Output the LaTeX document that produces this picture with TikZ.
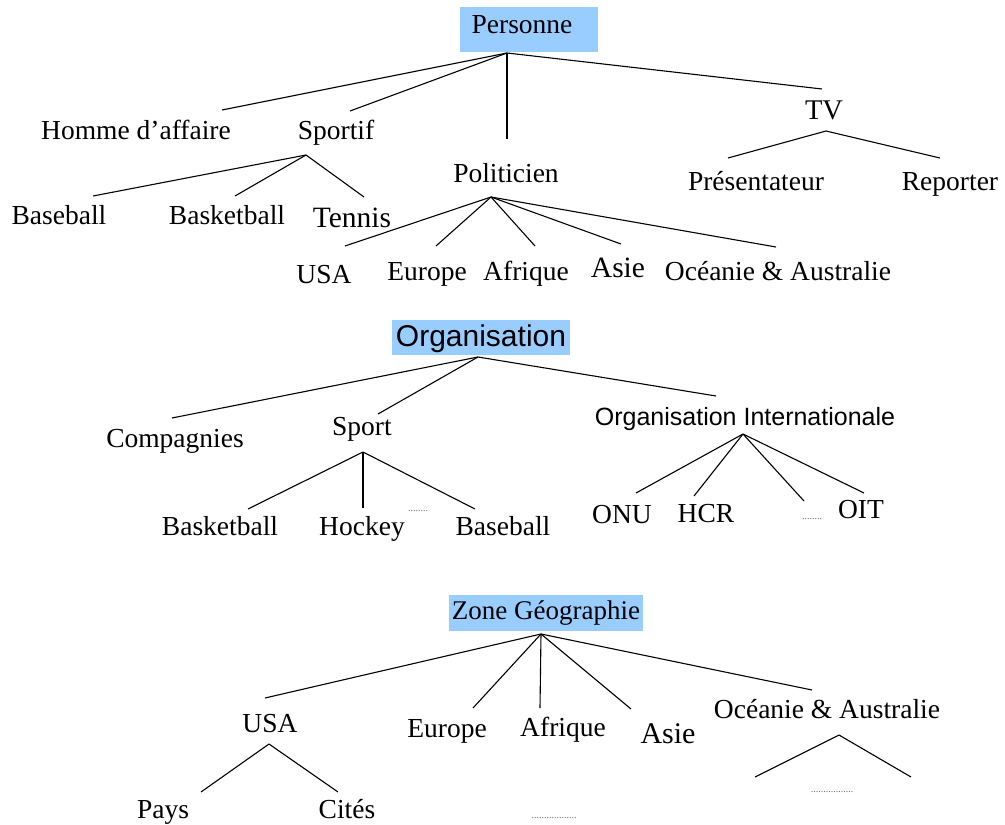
\documentclass[tikz,border=0pt]{standalone}
\usepackage{fontspec}
\setmainfont{Liberation Serif}
\newfontfamily\arialf{Liberation Sans}
\definecolor{hl}{RGB}{153,204,255}
\begin{document}
\begin{tikzpicture}[x=1pt,y=-1pt,
  lbl/.style={anchor=base, inner sep=0pt, font=\fontsize{27.5}{30}\selectfont},
  lblbig/.style={anchor=base, inner sep=0pt, font=\fontsize{29.5}{32}\selectfont},
  sanslbl/.style={anchor=base, inner sep=0pt, font=\arialf\fontsize{25}{28}\selectfont},
  sansbig/.style={anchor=base, inner sep=0pt, font=\arialf\fontsize{30}{32}\selectfont},
  hlbox/.style={fill=hl, draw=none, inner sep=0pt, anchor=north west},
  edge/.style={draw=black, line width=1.1pt},
  dotsl/.style={anchor=base, inner sep=0pt, font=\fontsize{10}{10}\selectfont, text=black!60}]
\useasboundingbox (0,0) rectangle (1005,825);

% ---------------- Personne ----------------
\node[hlbox, minimum width=138pt, minimum height=45pt] (personne-box) at (460,7) {};
\node[lbl] (personne) at (522,33) {Personne};
\node[lbl] (homme) at (136,139) {Homme d’affaire};
\node[lbl] (sportif) at (336,139) {Sportif};
\node[lbl] (polit) at (506,182) {Politicien};
\node[lbl, font=\fontsize{28.5}{30}\selectfont] (tv) at (824,119) {TV};
\node[lbl] (base1) at (59,224) {Baseball};
\node[lbl] (bask1) at (227,224) {Basketball};
\node[lblbig] (tennis) at (352,227) {Tennis};
\node[lbl] (usa1) at (324,283) {USA};
\node[lbl] (eur1) at (427,280) {Europe};
\node[lbl] (afr1) at (526,280) {Afrique};
\node[lblbig] (asie1) at (618,277) {Asie};
\node[lbl] (oce1) at (778,280) {Océanie \& Australie};
\node[lbl] (pres) at (756,190) {Présentateur};
\node[lbl] (rep) at (950,190) {Reporter};

\coordinate (p-r) at (507,53);
\coordinate (homme-t) at (222,110);
\coordinate (sportif-t) at (350,111);
\coordinate (polit-t) at (507,139);
\coordinate (tv-t) at (822,89);
\coordinate (sportif-b) at (306,155);
\coordinate (base1-t) at (93,196);
\coordinate (bask1-t) at (235,196);
\coordinate (tennis-t) at (364,197);
\coordinate (polit-b) at (491,197);
\coordinate (usa1-t) at (345,246);
\coordinate (eur1-t) at (436,246);
\coordinate (afr1-t) at (535,246);
\coordinate (asie1-t) at (621,244);
\coordinate (oce1-t) at (776,247);
\coordinate (tv-b) at (826,131);
\coordinate (pres-t) at (728,158);
\coordinate (rep-t) at (940,158);

\draw[edge] (p-r) -- (homme-t);
\draw[edge] (p-r) -- (sportif-t);
\draw[edge] (p-r) -- (polit-t);
\draw[edge] (p-r) -- (tv-t);
\draw[edge] (sportif-b) -- (base1-t);
\draw[edge] (sportif-b) -- (bask1-t);
\draw[edge] (sportif-b) -- (tennis-t);
\draw[edge] (polit-b) -- (usa1-t);
\draw[edge] (polit-b) -- (eur1-t);
\draw[edge] (polit-b) -- (afr1-t);
\draw[edge] (polit-b) -- (asie1-t);
\draw[edge] (polit-b) -- (oce1-t);
\draw[edge] (tv-b) -- (pres-t);
\draw[edge] (tv-b) -- (rep-t);

% ---------------- Organisation ----------------
\node[hlbox, minimum width=178pt, minimum height=35pt] (org-box) at (392,320) {};
\node[sansbig] (org) at (481,346) {Organisation};
\node[lbl] (comp) at (175,447) {Compagnies};
\node[lbl] (sport) at (362,435) {Sport};
\node[sanslbl] (oi) at (745,425) {Organisation Internationale};
\node[lbl] (bask2) at (220,535) {Basketball};
\node[lbl] (hockey) at (362,535) {Hockey};
\node[lbl] (base2) at (503,535) {Baseball};
\node[dotsl] (dots-sport) at (418,511) {........};
\node[lbl] (onu) at (622,523) {ONU};
\node[lbl] (hcr) at (706,522) {HCR};
\node[dotsl] (dots-oi) at (812,519) {........};
\node[lbl] (oit) at (861,518) {OIT};

\coordinate (o-r) at (478,357);
\coordinate (comp-t) at (172,418);
\coordinate (sport-t) at (378,414);
\coordinate (oi-t) at (716,396);
\coordinate (sport-b) at (363,452);
\coordinate (bask2-t) at (248,509);
\coordinate (hockey-t) at (363,508);
\coordinate (base2-t) at (475,509);
\coordinate (oi-b) at (743,434);
\coordinate (onu-t) at (636,493);
\coordinate (hcr-t) at (694,496);
\coordinate (doi-t) at (804,501);
\coordinate (oit-t) at (864,493);

\draw[edge] (o-r) -- (comp-t);
\draw[edge] (o-r) -- (sport-t);
\draw[edge] (o-r) -- (oi-t);
\draw[edge] (sport-b) -- (bask2-t);
\draw[edge] (sport-b) -- (hockey-t);
\draw[edge] (sport-b) -- (base2-t);
\draw[edge] (oi-b) -- (onu-t);
\draw[edge] (oi-b) -- (hcr-t);
\draw[edge] (oi-b) -- (doi-t);
\draw[edge] (oi-b) -- (oit-t);

% ---------------- Zone Géographie ----------------
\node[hlbox, minimum width=194pt, minimum height=36pt] (zone-box) at (449,595) {};
\node[lbl, font=\fontsize{27}{30}\selectfont] (zone) at (546,619) {Zone Géographie};
\node[lbl] (usa3) at (270,732) {USA};
\node[lbl] (eur3) at (447,737) {Europe};
\node[lbl] (afr3) at (563,736) {Afrique};
\node[lbl, font=\fontsize{30}{32}\selectfont] (asie3) at (668,743) {Asie};
\node[lbl] (oce3) at (827,718) {Océanie \& Australie};
\node[lbl] (pays) at (163,818) {Pays};
\node[lbl] (cites) at (347,818) {Cités};
\node[dotsl] (dots-oce) at (832,792) {.................};
\node[dotsl] (dots-bot) at (554,818) {..................};

\coordinate (z-r) at (541,634);
\coordinate (usa3-t) at (265,698);
\coordinate (eur3-t) at (473,708);
\coordinate (afr3-t) at (540,708);
\coordinate (asie3-t) at (631,709);
\coordinate (oce3-t) at (812,690);
\coordinate (usa3-b) at (269,744);
\coordinate (pays-t) at (201,792);
\coordinate (cites-t) at (338,792);
\coordinate (oce3-b) at (839,735);
\coordinate (oce3-l) at (755,777);
\coordinate (oce3-r) at (911,777);

\draw[edge] (z-r) -- (usa3-t);
\draw[edge] (z-r) -- (eur3-t);
\draw[edge] (z-r) -- (afr3-t);
\draw[edge] (z-r) -- (asie3-t);
\draw[edge] (z-r) -- (oce3-t);
\draw[edge] (usa3-b) -- (pays-t);
\draw[edge] (usa3-b) -- (cites-t);
\draw[edge] (oce3-b) -- (oce3-l);
\draw[edge] (oce3-b) -- (oce3-r);
\end{tikzpicture}
\end{document}
